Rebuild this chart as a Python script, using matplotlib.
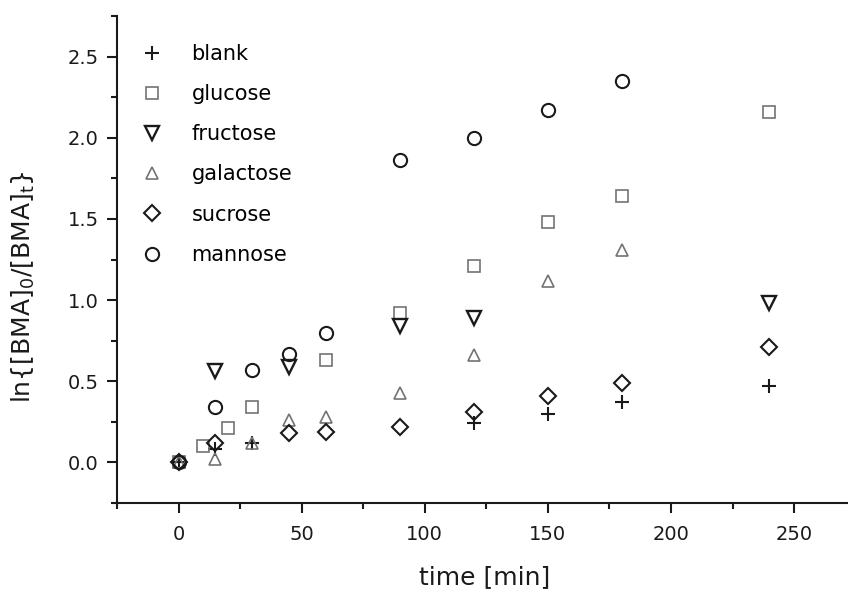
import numpy as np
import matplotlib.pyplot as plt
from matplotlib.ticker import MultipleLocator

plt.rcParams['font.family'] = ['DejaVu Sans']
plt.rcParams['mathtext.fontset'] = 'dejavusans'

# data
blank_t = [0, 15, 30, 120, 150, 180, 240]
blank_y = [0.0, 0.08, 0.12, 0.24, 0.30, 0.37, 0.47]

glucose_t = [0, 10, 20, 30, 60, 90, 120, 150, 180, 240]
glucose_y = [0.0, 0.10, 0.215, 0.34, 0.63, 0.92, 1.21, 1.48, 1.64, 2.16]

fructose_t = [15, 45, 90, 120, 240]
fructose_y = [0.565, 0.59, 0.84, 0.89, 0.985]

galactose_t = [0, 15, 30, 45, 60, 90, 120, 150, 180]
galactose_y = [0.0, 0.02, 0.12, 0.26, 0.28, 0.43, 0.66, 1.12, 1.31]

sucrose_t = [0, 15, 45, 60, 90, 120, 150, 180, 240]
sucrose_y = [0.0, 0.12, 0.18, 0.19, 0.22, 0.31, 0.41, 0.49, 0.71]

mannose_t = [0, 15, 30, 45, 60, 90, 120, 150, 180]
mannose_y = [0.0, 0.34, 0.57, 0.67, 0.80, 1.86, 2.00, 2.17, 2.35]

fig = plt.figure(figsize=(8.48, 5.92), dpi=100)
ax = fig.add_axes([117/848, 89/592, (855.6-117)/848, 487/592])

dark = '#1a1a1a'
grey = '#737373'
ax.plot(blank_t, blank_y, ls='none', marker='+', ms=10, mew=1.5, color=dark, label='blank')
ax.plot(glucose_t, glucose_y, ls='none', marker='s', ms=8, mew=1.2, mfc='none', mec=grey, label='glucose')
ax.plot(fructose_t, fructose_y, ls='none', marker='v', ms=10, mew=1.7, mfc='none', mec=dark, label='fructose')
ax.plot(galactose_t, galactose_y, ls='none', marker='^', ms=9, mew=1.2, mfc='none', mec=grey, label='galactose')
ax.plot(sucrose_t, sucrose_y, ls='none', marker='D', ms=8.5, mew=1.5, mfc='none', mec=dark, label='sucrose')
ax.plot(mannose_t, mannose_y, ls='none', marker='o', ms=9.5, mew=1.5, mfc='none', mec=dark, label='mannose')

ax.set_xlim(-25, 275)
ax.set_ylim(-0.25, 2.75)
ax.xaxis.set_minor_locator(MultipleLocator(25))
ax.yaxis.set_minor_locator(MultipleLocator(0.25))
ax.set_xticks([0, 50, 100, 150, 200, 250])
ax.set_yticks([0.0, 0.5, 1.0, 1.5, 2.0, 2.5])
ax.yaxis.set_major_formatter(plt.FormatStrFormatter('%.1f'))

for s in ['top', 'right']:
    ax.spines[s].set_visible(False)
for s in ['left', 'bottom']:
    ax.spines[s].set_linewidth(1.5)
    ax.spines[s].set_color(dark)
ax.tick_params(which='major', direction='out', length=7, width=1.5, labelsize=14, colors=dark)
ax.tick_params(axis='x', which='major', pad=9)
ax.tick_params(axis='y', which='major', pad=6)
ax.tick_params(which='minor', direction='out', length=4.5, width=1.5, colors=dark)

ax.set_xlabel('time [min]', fontsize=18, color=dark, va='center')
ax.xaxis.set_label_coords(0.498, -0.152)
ax.set_ylabel(r'ln{[BMA]$_0$/[BMA]$_\mathrm{t}$}', fontsize=18, color=dark, va='center')
ax.yaxis.set_label_coords(-0.127, 0.445)

ax.legend(loc='upper left', bbox_to_anchor=(0.022, 0.96), frameon=False, fontsize=15,
          labelspacing=0.97, handletextpad=1.4, handlelength=1.0, borderaxespad=0)

fig.savefig('out.png', dpi=100)
